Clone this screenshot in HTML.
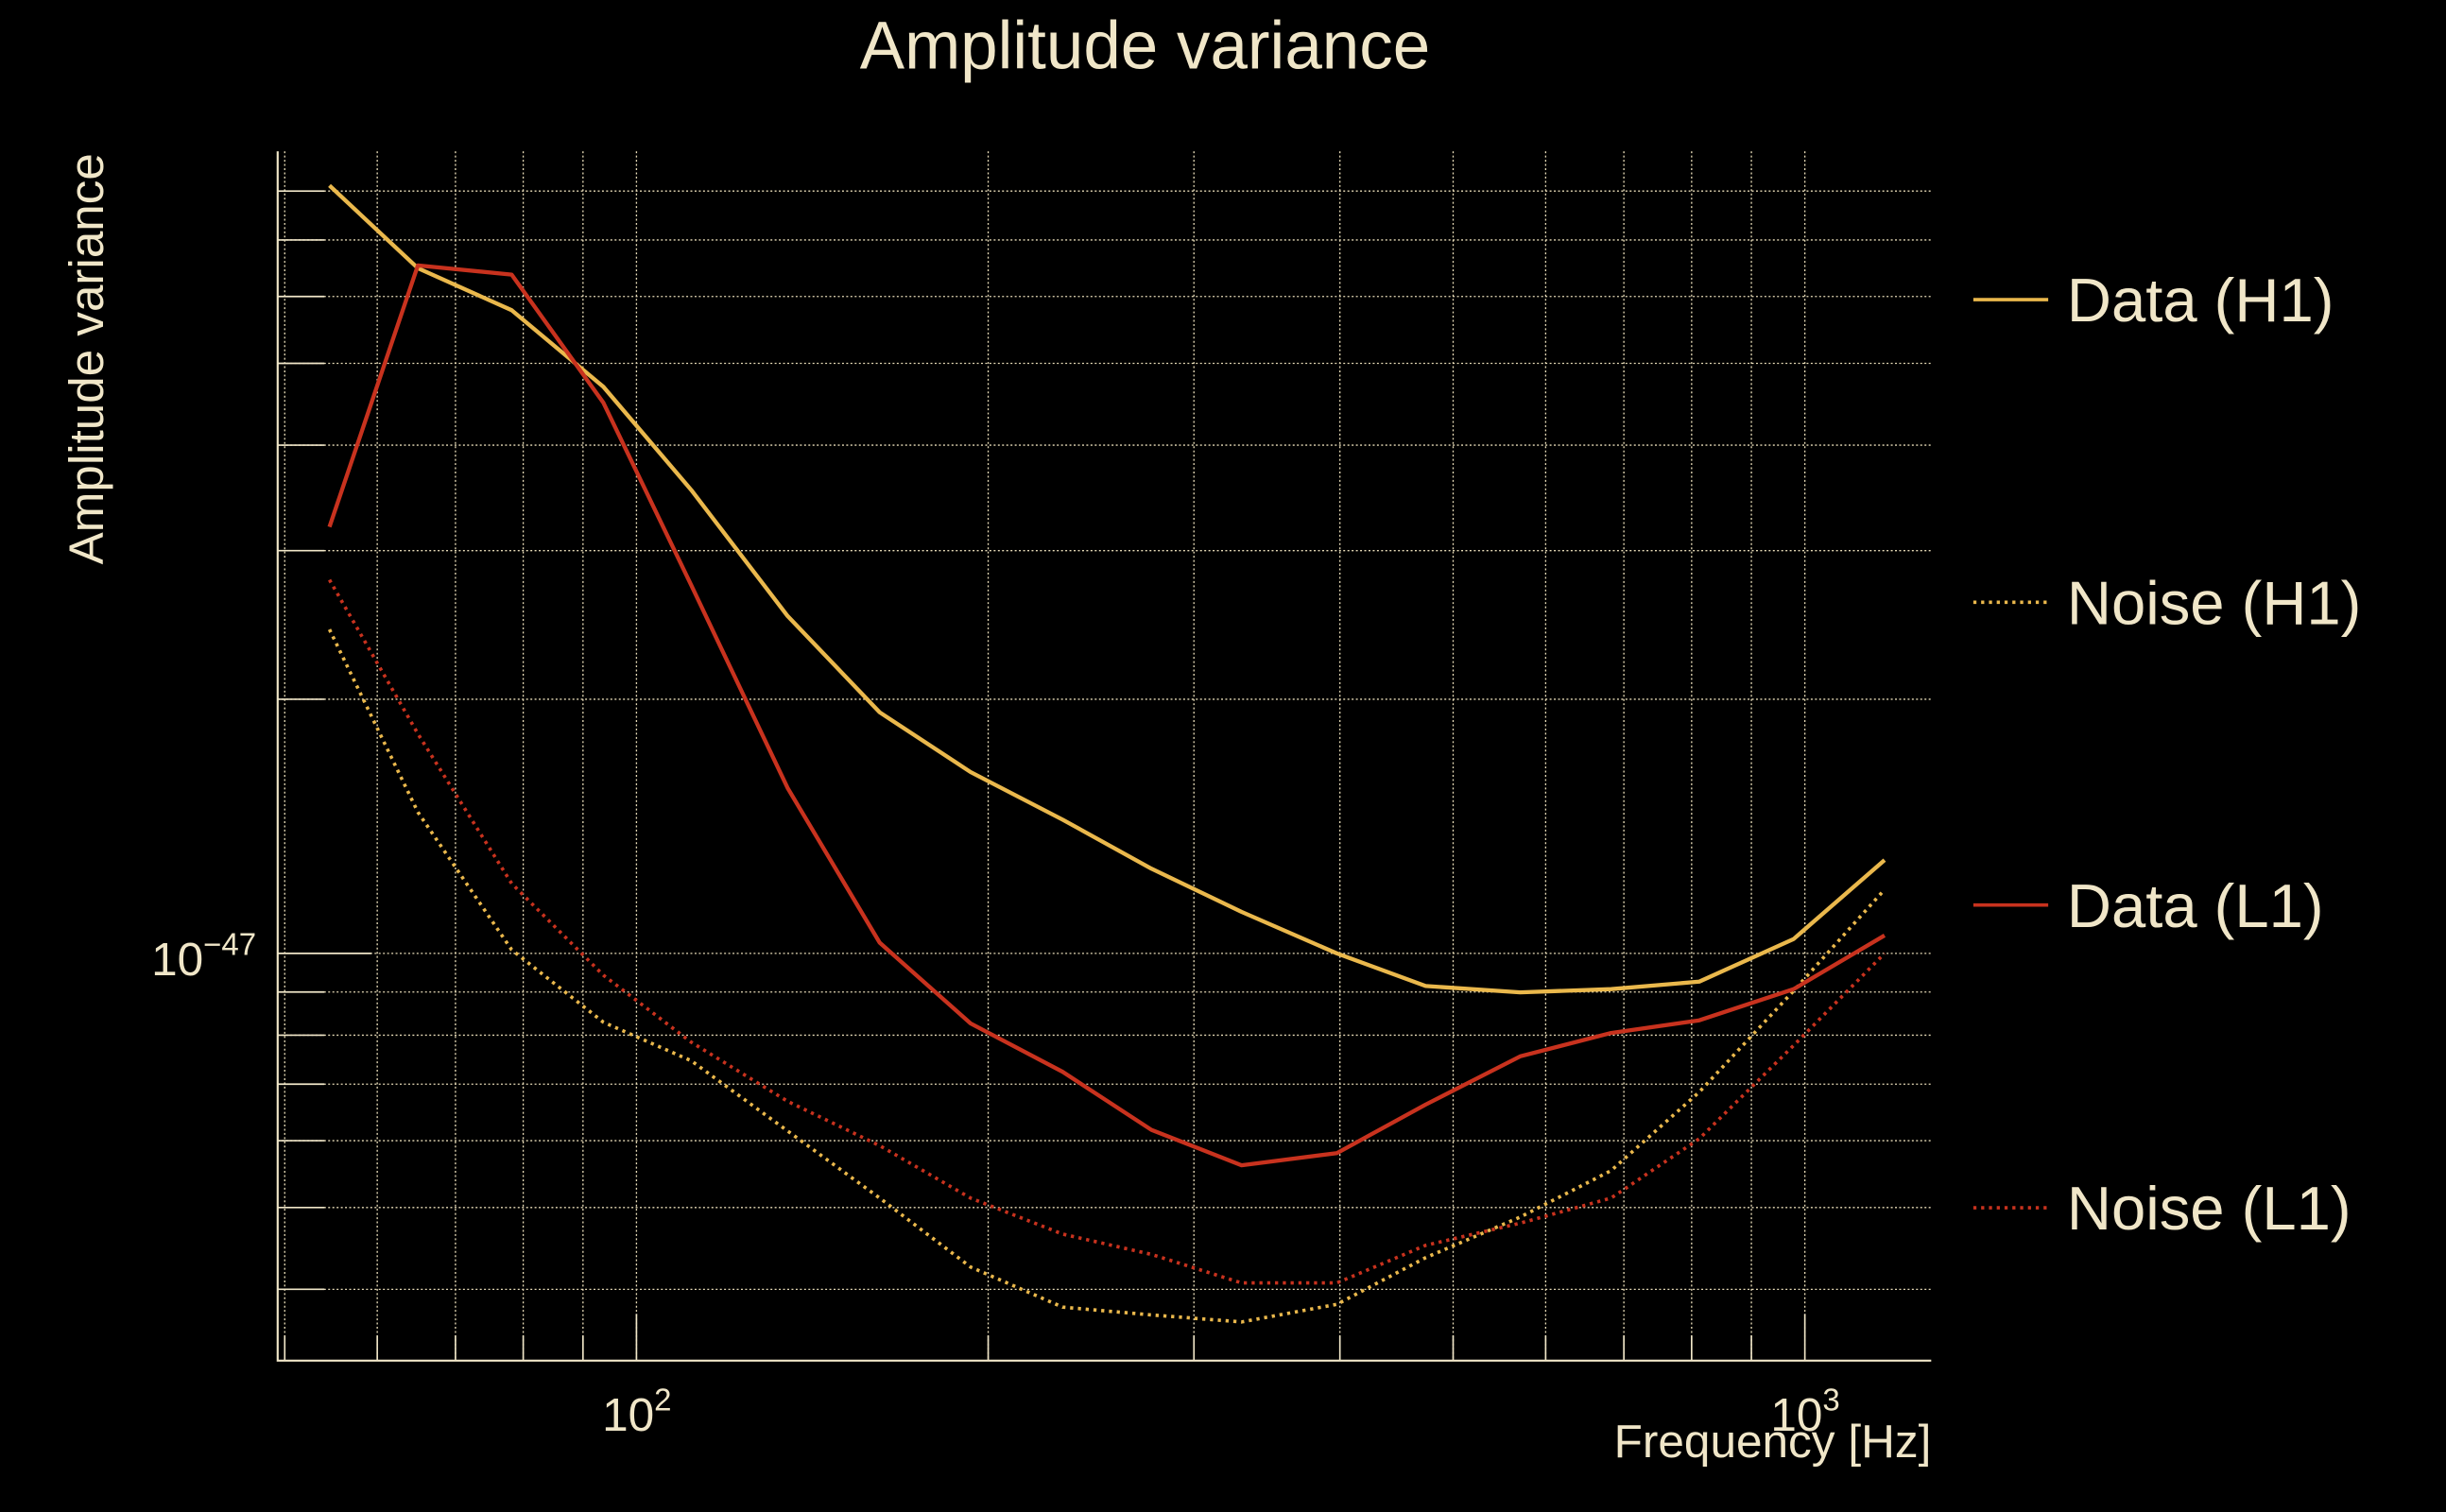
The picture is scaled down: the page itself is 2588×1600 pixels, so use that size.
<!DOCTYPE html>
<html><head><meta charset="utf-8"><style>
html,body{margin:0;padding:0;background:#000;width:2588px;height:1600px;overflow:hidden}
svg{display:block}
text{font-family:"Liberation Sans",sans-serif;fill:#f0e6c8}
</style></head><body>
<svg id="chart" width="2588" height="1600" viewBox="0 0 1568 969" preserveAspectRatio="none">
<rect width="1568" height="969" fill="#000"/>
<text x="734" y="44" font-size="43" text-anchor="middle">Amplitude variance</text>
<text transform="translate(66,230) rotate(-90)" font-size="31" text-anchor="middle">Amplitude variance</text>
<text x="1238" y="934" font-size="30" text-anchor="end">Frequency [Hz]</text>
<g id="grid"></g><g id="axes"></g><g id="series"></g><g id="legend"></g>
</svg>
<script>
const freqs=[54.6,65.0,78.2,93.7,111.4,134.7,161.5,193.2,231.6,275.9,329.5,397.6,473.6,570.7,682.6,812.0,978,1170];
const dataH1=[8.12,6.48,5.78,4.69,3.54,2.51,1.93,1.64,1.44,1.26,1.12,1.00,0.915,0.899,0.907,0.926,1.04,1.29];
const dataL1=[3.20,6.53,6.37,4.49,2.73,1.57,1.03,0.826,0.724,0.618,0.561,0.580,0.662,0.755,0.805,0.833,0.907,1.05];
const noiseH1=[2.42,1.47,1.01,0.829,0.746,0.616,0.513,0.425,0.381,0.373,0.366,0.384,0.436,0.487,0.553,0.685,0.903,1.19];
const noiseL1=[2.77,1.82,1.21,0.942,0.785,0.668,0.592,0.513,0.465,0.440,0.407,0.407,0.451,0.479,0.513,0.603,0.778,1.00];
const xGrid=[50,60,70,80,90,100,200,300,400,500,600,700,800,900,1000];
const yGrid=[0.4,0.5,0.6,0.7,0.8,0.9,1,2,3,4,5,6,7,8];
const legendLabels=["Data (H1)","Noise (H1)","Data (L1)","Noise (L1)"];
const NS='http://www.w3.org/2000/svg';
const L=178,R=1238,T=97,B=872;
function X(f){return 408+749*(Math.log10(f)-2);}
function Y(v){return 611-541*Math.log10(v);}
function mk(tag,attrs,parent){const e=document.createElementNS(NS,tag);for(const k in attrs)e.setAttribute(k,attrs[k]);parent.appendChild(e);return e;}
const grid=document.getElementById('grid'),axes=document.getElementById('axes'),ser=document.getElementById('series'),leg=document.getElementById('legend');
xGrid.forEach(f=>{const x=X(f);if(x<L||x>R)return;
 const g=mk('line',{x1:x,x2:x,y1:T,y2:B,stroke:'#e8dcb8','stroke-width':0.8,'stroke-dasharray':'1.2 1.5'},grid);
 
 
 const t=mk('line',{x1:x,x2:x,y1:B,y2:B-(f===100||f===1000?30:16),stroke:'#f0e6c8','stroke-width':1},axes);
 
 });
yGrid.forEach(v=>{const y=Y(v);
 const g=mk('line',{x1:L,x2:R,y1:y,y2:y,stroke:'#e8dcb8','stroke-width':0.8,'stroke-dasharray':'1.2 1.5'},grid);
 
 
 const t=mk('line',{x1:L,x2:L+(v===1?60:30),y1:y,y2:y,stroke:'#f0e6c8','stroke-width':1},axes);
 
 });
const sp=mk('path',{d:`M${L},${T} V${B} H${R}`,fill:'none',stroke:'#f0e6c8','stroke-width':1.3},axes);


function tickLabel(x,y,base,exp,name,anchor){const t=mk('text',{x:x,y:y,'font-size':30,'text-anchor':anchor},axes);
 
 
 t.textContent=base;const s=mk('tspan',{dy:-13,'font-size':20},t);s.textContent=exp;}
tickLabel(X(100)-22,917,'10','2','x-tick-label-100','start');
tickLabel(X(1000)-22,917,'10','3','x-tick-label-1000','start');
tickLabel(97,Y(1)+14,'10','\u221247','y-tick-label-1e-47','start');
const specs=[[dataH1,'#eab84c',null,'series-data-h1'],[noiseH1,'#eab84c','2 3','series-noise-h1'],[dataL1,'#c8321e',null,'series-data-l1'],[noiseL1,'#c8321e','2 3','series-noise-l1']];
specs.forEach((s,i)=>{const d=s[0].map((v,j)=>(j?'L':'M')+X(freqs[j]).toFixed(1)+','+Y(v).toFixed(1)).join(' ');
 const a={d:d,fill:'none',stroke:s[1],'stroke-width':2.6,'stroke-linejoin':'round'};if(s[2]){a['stroke-dasharray']=s[2];a['stroke-width']=2.2;}
 const p=mk('path',a,ser);
 
 
 const ly=192+i*194;
 const la={x1:1265,x2:1313,y1:ly,y2:ly,stroke:s[1],'stroke-width':2.2};if(s[2])la['stroke-dasharray']=s[2];
 const ll=mk('line',la,leg);
 
 
 const lt=mk('text',{x:1325,y:ly+14,'font-size':39.5},leg);
 
 
 lt.textContent=legendLabels[i];});
</script>
</body></html>
